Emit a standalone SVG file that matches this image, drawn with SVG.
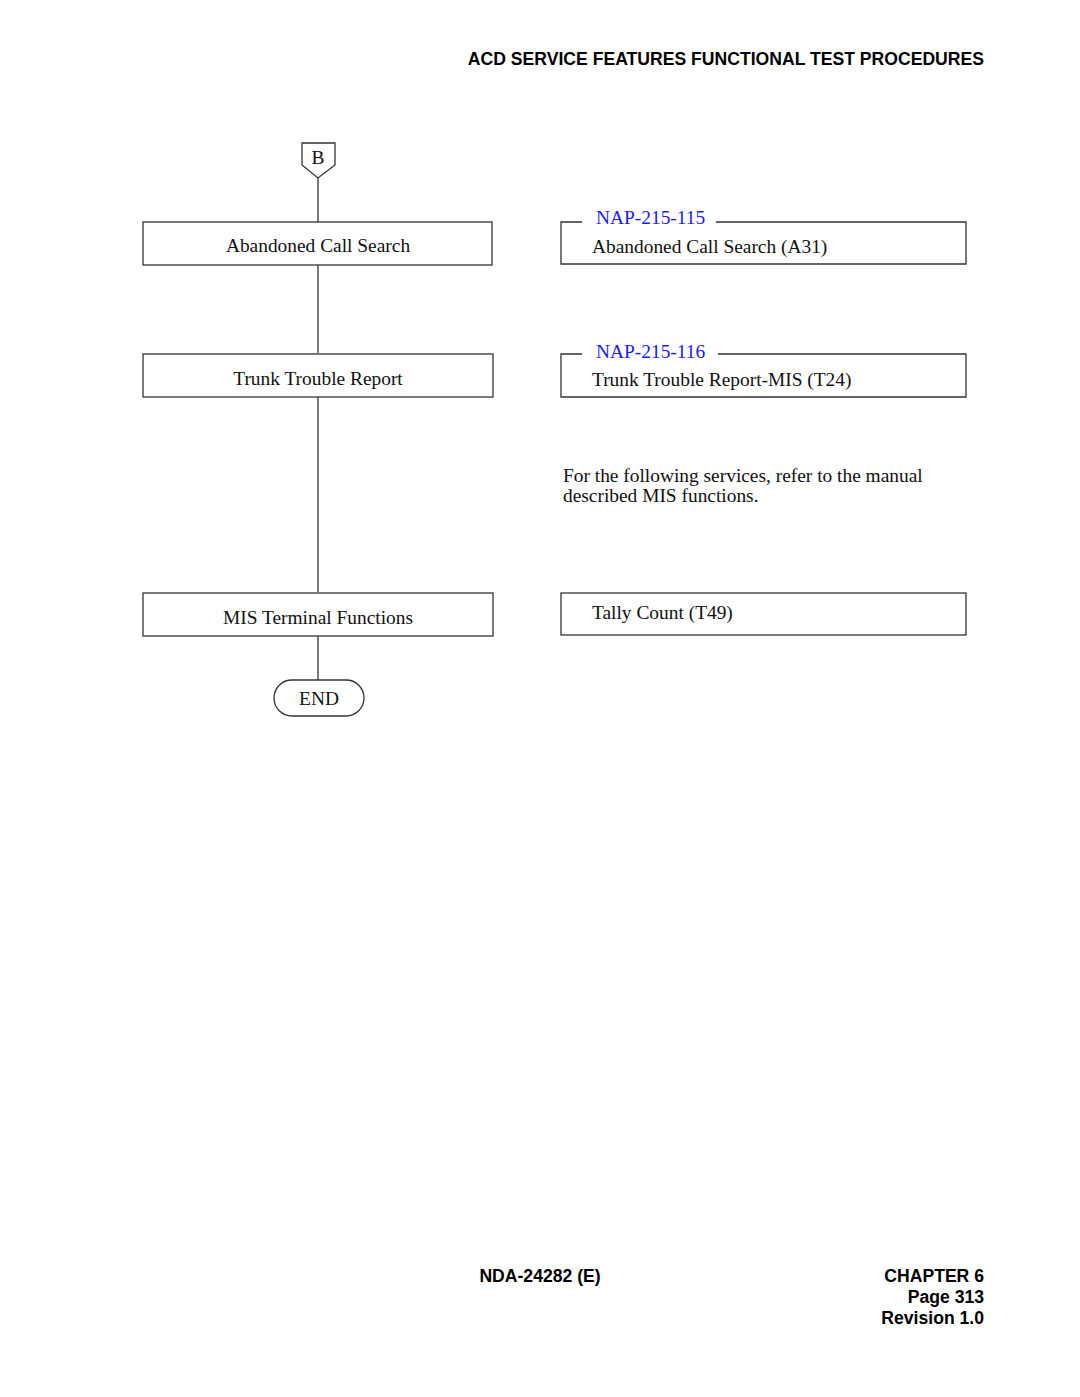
<svg xmlns="http://www.w3.org/2000/svg" width="1080" height="1397" viewBox="0 0 1080 1397">
<style>
.hdr{font-family:"Liberation Sans",Arial,sans-serif;font-weight:bold;font-size:17.6px;fill:#000}
.t{font-family:"Liberation Serif","Times New Roman",serif;font-size:19.4px;fill:#111}
.lnk{font-family:"Liberation Serif","Times New Roman",serif;font-size:19.4px;fill:#1a1aff}
.box{fill:#fff;stroke:#333;stroke-width:1.3}
.ln{fill:none;stroke:#333;stroke-width:1.3}
</style>
<rect width="1080" height="1397" fill="#fff"/>
<text class="hdr" x="984" y="65" text-anchor="end">ACD SERVICE FEATURES FUNCTIONAL TEST PROCEDURES</text>
<g id="connectors">
<line class="ln" x1="318" y1="178" x2="318" y2="222"/>
<line class="ln" x1="318" y1="265" x2="318" y2="353"/>
<line class="ln" x1="318" y1="397" x2="318" y2="592"/>
<line class="ln" x1="318" y1="636" x2="318" y2="680"/>
</g>
<g id="startB">
<polygon class="box" points="302,143 335,143 335,165 318,178 302,165"/>
<text class="t" x="318" y="164" text-anchor="middle">B</text>
</g>
<g id="n1">
<rect class="box" x="143" y="222" width="349" height="43"/>
<text class="t" x="318" y="252" text-anchor="middle">Abandoned Call Search</text>
</g>
<g id="n2">
<rect class="box" x="143" y="354" width="350" height="43"/>
<text class="t" x="318" y="385" text-anchor="middle">Trunk Trouble Report</text>
</g>
<g id="n3">
<rect class="box" x="143" y="593" width="350" height="43"/>
<text class="t" x="318" y="624" text-anchor="middle">MIS Terminal Functions</text>
</g>
<g id="end">
<rect class="box" x="274" y="680" width="90" height="36" rx="18" ry="18"/>
<text class="t" x="319" y="705" text-anchor="middle">END</text>
</g>
<g id="r1">
<path class="ln" d="M582,222 H561 V264 H966 V222 H716"/>
<text class="lnk" x="596" y="224">NAP-215-115</text>
<text class="t" x="592" y="253">Abandoned Call Search (A31)</text>
</g>
<g id="r2">
<path class="ln" d="M582,354 H561 V397 H966 V354 H718"/>
<text class="lnk" x="596" y="358">NAP-215-116</text>
<text class="t" x="592" y="386">Trunk Trouble Report-MIS (T24)</text>
</g>
<g id="note">
<text class="t" x="563" y="482">For the following services, refer to the manual</text>
<text class="t" x="563" y="502">described MIS functions.</text>
</g>
<g id="r3">
<rect class="box" x="561" y="593" width="405" height="42"/>
<text class="t" x="592" y="619">Tally Count (T49)</text>
</g>
<text class="hdr" x="540" y="1282" text-anchor="middle">NDA-24282 (E)</text>
<text class="hdr" x="984" y="1282" text-anchor="end">CHAPTER 6</text>
<text class="hdr" x="984" y="1303" text-anchor="end">Page 313</text>
<text class="hdr" x="984" y="1324" text-anchor="end">Revision 1.0</text>
</svg>
